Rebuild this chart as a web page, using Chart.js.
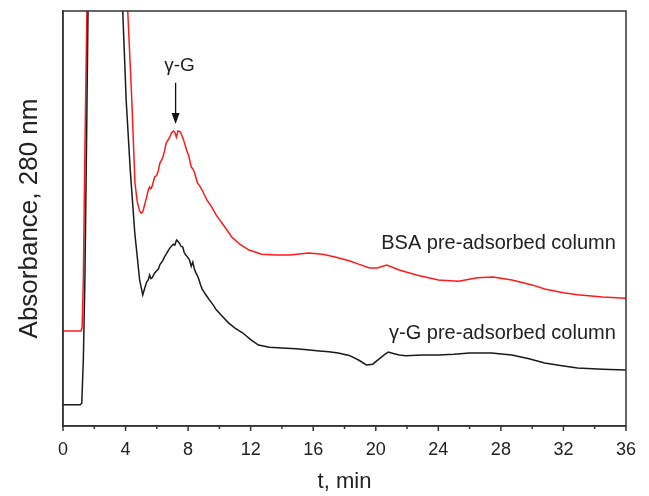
<!DOCTYPE html>
<html>
<head>
<meta charset="utf-8">
<script src="https://cdn.jsdelivr.net/npm/chart.js@4.4.1/dist/chart.umd.min.js"></script>
<style>
  html, body { margin: 0; padding: 0; background: #fff; }
  #wrap { width: 649px; height: 496px; }
</style>
</head>
<body>
<div id="wrap"><canvas id="chromChart"></canvas></div>
<script>
// elution time, min
const blackT = [0, 1.1, 1.2, 1.3, 1.4, 1.5, 1.6, 1.7, 3.7, 3.82, 4.04, 4.3, 4.59, 4.9, 5.1, 5.25, 5.35, 5.45, 5.54, 5.62, 5.7, 5.85, 5.99, 6.1, 6.2, 6.37, 6.5, 6.6, 6.72, 6.82, 6.95, 7.05, 7.15, 7.26, 7.35, 7.45, 7.55, 7.66, 7.75, 7.85, 7.95, 8.09, 8.2, 8.3, 8.4, 8.5, 8.6, 8.7, 8.8, 8.9, 9.0, 9.1, 9.36, 9.6, 9.8, 10.2, 10.6, 11.0, 11.5, 12.0, 12.5, 13.2, 14.0, 14.9, 15.6, 16.4, 17.0, 17.6, 18.3, 18.9, 19.4, 19.8, 20.2, 20.6, 20.8, 21.0, 21.5, 21.9, 23.0, 24.0, 25.0, 26.0, 27.4, 28.7, 29.8, 30.8, 31.8, 32.9, 34.5, 36];
const blackY = [0.051, 0.051, 0.055, 0.159, 0.352, 0.665, 1.0, 1.27, 1.27, 1.0, 0.785, 0.617, 0.465, 0.352, 0.316, 0.335, 0.347, 0.352, 0.364, 0.355, 0.357, 0.368, 0.374, 0.378, 0.389, 0.398, 0.408, 0.414, 0.422, 0.428, 0.434, 0.438, 0.436, 0.448, 0.445, 0.440, 0.433, 0.431, 0.418, 0.412, 0.408, 0.400, 0.385, 0.395, 0.378, 0.369, 0.362, 0.352, 0.340, 0.330, 0.324, 0.318, 0.304, 0.292, 0.280, 0.264, 0.248, 0.236, 0.224, 0.208, 0.195, 0.190, 0.188, 0.186, 0.184, 0.181, 0.179, 0.176, 0.170, 0.159, 0.147, 0.149, 0.161, 0.173, 0.178, 0.176, 0.171, 0.169, 0.171, 0.171, 0.173, 0.176, 0.176, 0.171, 0.162, 0.152, 0.146, 0.140, 0.137, 0.135];

const redT = [0, 1.15, 1.22, 1.3, 1.4, 1.53, 1.6, 3.9, 4.14, 4.4, 4.6, 4.75, 4.9, 5.0, 5.1, 5.2, 5.35, 5.45, 5.54, 5.62, 5.7, 5.86, 6.0, 6.1, 6.2, 6.3, 6.4, 6.5, 6.6, 6.7, 6.8, 6.94, 7.05, 7.15, 7.25, 7.35, 7.5, 7.6, 7.7, 7.8, 7.9, 8.05, 8.2, 8.3, 8.4, 8.5, 8.6, 8.75, 8.9, 9.05, 9.2, 9.5, 9.8, 10.3, 10.8, 11.3, 11.9, 12.7, 13.6, 14.5, 15.7, 16.6, 17.4, 18.3, 18.9, 19.6, 20.1, 20.7, 21.5, 22.6, 24.0, 25.3, 26.5, 27.5, 28.7, 30.0, 30.8, 32.0, 32.9, 34.5, 36];
const redY = [0.229, 0.229, 0.236, 0.352, 0.665, 1.0, 1.27, 1.27, 1.0, 0.785, 0.586, 0.540, 0.518, 0.513, 0.516, 0.530, 0.552, 0.568, 0.576, 0.572, 0.578, 0.600, 0.604, 0.616, 0.634, 0.640, 0.650, 0.664, 0.682, 0.688, 0.694, 0.706, 0.711, 0.708, 0.696, 0.711, 0.709, 0.700, 0.690, 0.678, 0.665, 0.650, 0.624, 0.620, 0.612, 0.598, 0.586, 0.578, 0.568, 0.556, 0.545, 0.528, 0.508, 0.482, 0.455, 0.438, 0.424, 0.414, 0.412, 0.412, 0.417, 0.414, 0.407, 0.398, 0.390, 0.381, 0.381, 0.388, 0.376, 0.364, 0.352, 0.349, 0.357, 0.359, 0.352, 0.340, 0.330, 0.321, 0.316, 0.311, 0.308];

const xTickLabels = ['0', '4', '8', '12', '16', '20', '24', '28', '32', '36'];

// text annotations: [x (min), y (a.u.), text, align]
const curveLabels = [
  [35.35, 0.441, 'BSA pre-adsorbed column', 'right'],
  [35.35, 0.224, 'γ-G pre-adsorbed column', 'right']
];
const peakLabel = [7.45, 0.867, 'γ-G'];
const peakArrow = [7.2, 0.827, 0.728]; // x, y from, y to

const FONT = '"Liberation Sans", Arial, sans-serif';

function toPoints(xs, ys) {
  return xs.map((x, i) => ({ x: x, y: ys[i] }));
}

const decorations = {
  id: 'decorations',
  afterDraw(chart) {
    const ctx = chart.ctx;
    const area = chart.chartArea;
    const xs = chart.scales.x;
    const ys = chart.scales.y;
    ctx.save();
    // frame on top/right
    ctx.strokeStyle = '#333';
    ctx.lineWidth = 1.5;
    ctx.strokeRect(area.left, area.top, area.right - area.left, area.bottom - area.top);
    // x ticks, outward
    xs.ticks.forEach(t => {
      const px = xs.getPixelForValue(t.value);
      const len = (t.value % 4 === 0) ? 5 : 3;
      ctx.beginPath();
      ctx.moveTo(px, area.bottom);
      ctx.lineTo(px, area.bottom + len);
      ctx.stroke();
    });
    // labels
    ctx.fillStyle = '#222';
    ctx.textBaseline = 'middle';
    ctx.font = '20px ' + FONT;
    curveLabels.forEach(l => {
      ctx.textAlign = l[3];
      ctx.fillText(l[2], xs.getPixelForValue(l[0]), ys.getPixelForValue(l[1]));
    });
    ctx.textAlign = 'center';
    ctx.font = '19px ' + FONT;
    ctx.fillText(peakLabel[2], xs.getPixelForValue(peakLabel[0]), ys.getPixelForValue(peakLabel[1]));
    // arrow
    const ax = xs.getPixelForValue(peakArrow[0]);
    const ay1 = ys.getPixelForValue(peakArrow[1]);
    const ay2 = ys.getPixelForValue(peakArrow[2]);
    ctx.strokeStyle = '#111';
    ctx.lineWidth = 1.3;
    ctx.beginPath();
    ctx.moveTo(ax, ay1);
    ctx.lineTo(ax, ay2 - 8);
    ctx.stroke();
    ctx.fillStyle = '#111';
    ctx.beginPath();
    ctx.moveTo(ax - 4, ay2 - 11);
    ctx.lineTo(ax + 4, ay2 - 11);
    ctx.lineTo(ax, ay2);
    ctx.closePath();
    ctx.fill();
    ctx.restore();
  }
};

const ctx = document.getElementById('chromChart').getContext('2d');
const chromChart = new Chart(ctx, {
  type: 'line',
  data: {
    datasets: [
      {
        label: 'γ-G pre-adsorbed column',
        data: toPoints(blackT, blackY),
        borderColor: '#1a1a1a',
        borderWidth: 1.5,
        pointRadius: 0,
        tension: 0
      },
      {
        label: 'BSA pre-adsorbed column',
        data: toPoints(redT, redY),
        borderColor: '#ff1a1a',
        borderWidth: 1.5,
        pointRadius: 0,
        tension: 0
      }
    ]
  },
  options: {
    responsive: true,
    maintainAspectRatio: false,
    animation: false,
    layout: { padding: { top: 11, right: 21, left: 0, bottom: 0 } },
    plugins: {
      legend: { display: false },
      tooltip: { enabled: false }
    },
    scales: {
      x: {
        type: 'linear',
        min: 0,
        max: 36,
        afterFit: s => { s.height = 70; },
        grid: { display: false, drawTicks: false },
        border: { color: '#333', width: 1.5 },
        ticks: {
          stepSize: 2,
          padding: 13,
          color: '#222',
          font: { family: FONT, size: 18 },
          callback: v => (v % 4 === 0 ? xTickLabels[v / 4] : '')
        },
        title: {
          display: true,
          text: 't, min',
          color: '#222',
          font: { family: FONT, size: 22 },
          padding: { top: 0, bottom: 1 }
        }
      },
      y: {
        min: 0,
        max: 1,
        afterFit: s => { s.width = 63; },
        grid: { display: false, drawTicks: false },
        border: { color: '#333', width: 1.5 },
        ticks: { display: false },
        title: {
          display: true,
          text: 'Absorbance, 280 nm',
          color: '#222',
          font: { family: FONT, size: 26 },
          padding: { top: 14, bottom: 0 }
        }
      }
    }
  },
  plugins: [decorations]
});
</script>
</body>
</html>
